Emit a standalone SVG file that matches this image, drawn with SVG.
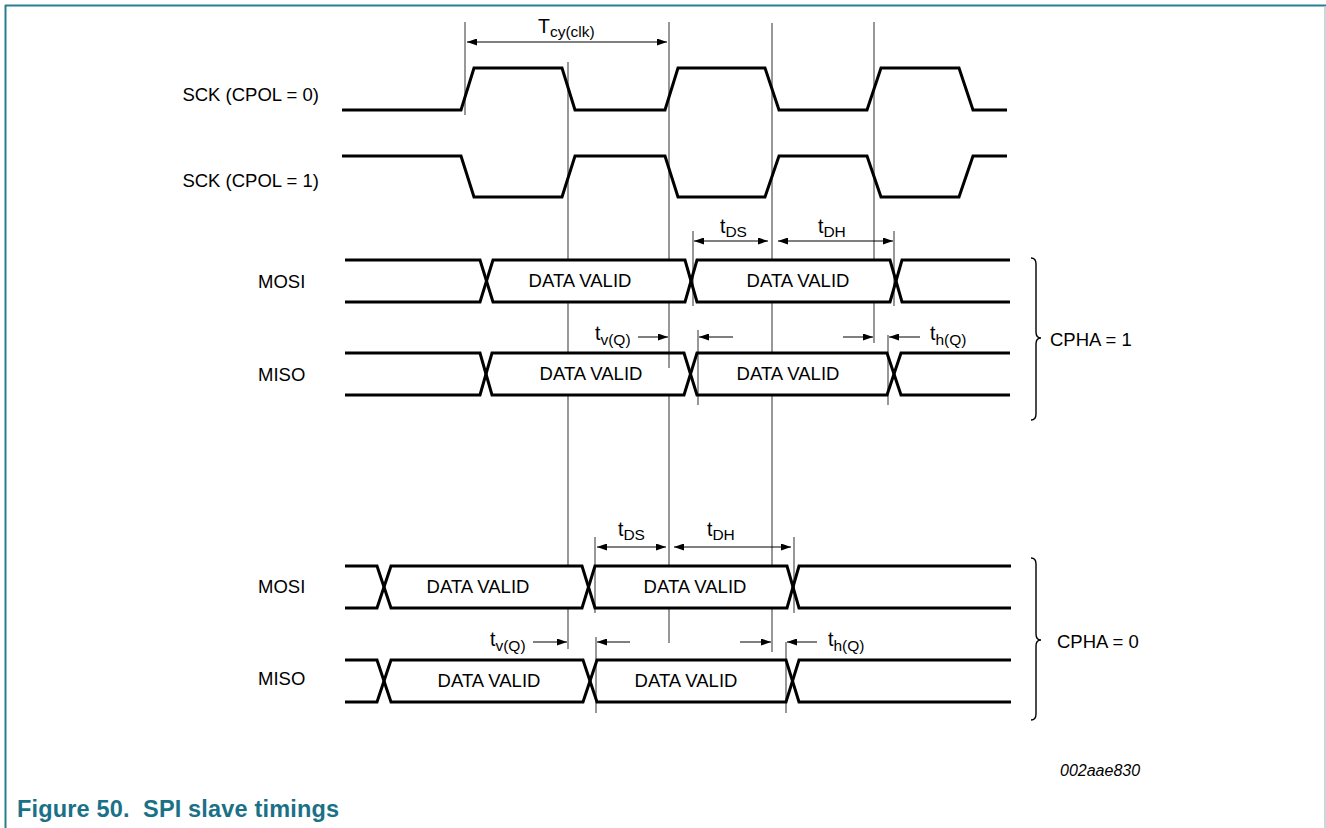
<svg xmlns="http://www.w3.org/2000/svg" width="1326" height="828" viewBox="0 0 1326 828">
<style>
text{font-family:"Liberation Sans",Arial,sans-serif;fill:#000}
.lbl{font-size:18.5px}
.dv{font-size:18.5px;text-anchor:middle}
.sym{font-size:19.5px}
.sub{font-size:15.5px}
.sig{fill:none;stroke:#000;stroke-width:3;stroke-linejoin:miter}
.guide{stroke:#444;stroke-width:1.1;fill:none}
.dim{stroke:#000;stroke-width:1;fill:none}
.brace{fill:none;stroke:#000;stroke-width:1.4}
.cap{font-size:23.5px;font-weight:bold;fill:#1a7187}
.code{font-size:16px;font-style:italic}
</style>
<defs>
<marker id="ah" viewBox="0 0 10 7" refX="10" refY="3.5" markerWidth="10" markerHeight="7" markerUnits="userSpaceOnUse" orient="auto-start-reverse">
<path d="M0,0 L10,3.5 L0,7 z" fill="#000"/>
</marker>
</defs>
<rect width="1326" height="828" fill="#fff"/>
<g id="frame">
<line x1="5" y1="5.5" x2="1326" y2="5.5" stroke="#2a7f8f" stroke-width="2"/>
<line x1="5.5" y1="5" x2="5.5" y2="828" stroke="#2a7f8f" stroke-width="2"/>
<line x1="1325" y1="6" x2="1325" y2="828" stroke="#b9cbd3" stroke-width="1.5"/>
</g>

<g id="connectors">
<line class="guide" x1="465" y1="22" x2="465" y2="115"/>
<path class="guide" d="M568,62V260M568,302V353M568,395V566M568,608V649"/>
<path class="guide" d="M669,22V260M669,302V368M669,395V566M669,608V643"/>
<path class="guide" d="M772,23V260M772,302V353M772,395V566M772,608V652"/>
<path class="guide" d="M874,22V260M874,302V343"/>
<path class="guide" d="M693,231V306M894,231V306M698,330V405M888,335V405"/>
<path class="guide" d="M595,537V613M794,537V613M596,637V713M786,642V713"/>
<line class="dim" x1="467" y1="42" x2="667" y2="42" marker-start="url(#ah)" marker-end="url(#ah)"/>
<line class="dim" x1="694" y1="241" x2="768" y2="241" marker-start="url(#ah)" marker-end="url(#ah)"/>
<line class="dim" x1="778" y1="241" x2="893" y2="241" marker-start="url(#ah)" marker-end="url(#ah)"/>
<line class="dim" x1="638" y1="337" x2="668" y2="337" marker-end="url(#ah)"/>
<line class="dim" x1="733" y1="337" x2="699" y2="337" marker-end="url(#ah)"/>
<line class="dim" x1="843" y1="337" x2="873" y2="337" marker-end="url(#ah)"/>
<line class="dim" x1="920" y1="337" x2="889" y2="337" marker-end="url(#ah)"/>
<line class="dim" x1="597" y1="547" x2="666" y2="547" marker-start="url(#ah)" marker-end="url(#ah)"/>
<line class="dim" x1="674" y1="547" x2="791" y2="547" marker-start="url(#ah)" marker-end="url(#ah)"/>
<line class="dim" x1="533" y1="642" x2="567" y2="642" marker-end="url(#ah)"/>
<line class="dim" x1="630" y1="642" x2="597" y2="642" marker-end="url(#ah)"/>
<line class="dim" x1="740" y1="642" x2="771" y2="642" marker-end="url(#ah)"/>
<line class="dim" x1="817" y1="642" x2="787" y2="642" marker-end="url(#ah)"/>
</g>

<g id="timing-labels">
<text class="sym" x="538" y="33">T<tspan class="sub" dy="4">cy(clk)</tspan></text>
<text class="sym" x="720" y="233">t<tspan class="sub" dy="4">DS</tspan></text>
<text class="sym" x="818" y="233">t<tspan class="sub" dy="4">DH</tspan></text>
<text class="sym" x="595" y="340">t<tspan class="sub" dy="5">v(Q)</tspan></text>
<text class="sym" x="930" y="340">t<tspan class="sub" dy="5">h(Q)</tspan></text>
<text class="sym" x="618" y="536">t<tspan class="sub" dy="4">DS</tspan></text>
<text class="sym" x="707" y="536">t<tspan class="sub" dy="4">DH</tspan></text>
<text class="sym" x="490" y="646">t<tspan class="sub" dy="5">v(Q)</tspan></text>
<text class="sym" x="828" y="646">t<tspan class="sub" dy="5">h(Q)</tspan></text>
</g>

<g id="sck-cpol0">
<text class="lbl" x="319" y="101" text-anchor="end">SCK (CPOL = 0)</text>
<path class="sig" d="M342,110H461L474,68H562L575,110H665L678,68H765L779,110H867L881,68H959L973,110H1007"/>
</g>
<g id="sck-cpol1">
<text class="lbl" x="319" y="187" text-anchor="end">SCK (CPOL = 1)</text>
<path class="sig" d="M342,156H461L474,197H562L575,156H665L678,197H765L779,156H867L881,197H959L973,156H1007"/>
</g>

<g id="mosi-cpha1">
<text class="lbl" x="258" y="288">MOSI</text>
<path class="sig" d="M345,260H480L493,302H685L697,260H890L902,302H1010"/>
<path class="sig" d="M345,302H480L493,260H685L697,302H890L902,260H1010"/>
<text class="dv" x="580" y="287">DATA VALID</text>
<text class="dv" x="798" y="287">DATA VALID</text>
</g>
<g id="miso-cpha1">
<text class="lbl" x="258" y="381">MISO</text>
<path class="sig" d="M345,353H480L492,395H684L697,353H887L901,395H1010"/>
<path class="sig" d="M345,395H480L492,353H684L697,395H887L901,353H1010"/>
<text class="dv" x="591" y="380">DATA VALID</text>
<text class="dv" x="788" y="380">DATA VALID</text>
</g>
<g id="brace-cpha1">
<path class="brace" d="M1031,258Q1036,258 1036,264V332Q1036,338 1041,338Q1036,338 1036,344V414Q1036,420 1031,420"/>
<text class="lbl" x="1050" y="346">CPHA = 1</text>
</g>

<g id="mosi-cpha0">
<text class="lbl" x="258" y="593">MOSI</text>
<path class="sig" d="M345,566H377L391,608H582L595,566H787L799,608H1011"/>
<path class="sig" d="M345,608H377L391,566H582L595,608H787L799,566H1011"/>
<text class="dv" x="478" y="593">DATA VALID</text>
<text class="dv" x="695" y="593">DATA VALID</text>
</g>
<g id="miso-cpha0">
<text class="lbl" x="258" y="685">MISO</text>
<path class="sig" d="M345,660H377L391,702H583L597,660H786L799,702H1011"/>
<path class="sig" d="M345,702H377L391,660H583L597,702H786L799,660H1011"/>
<text class="dv" x="489" y="687">DATA VALID</text>
<text class="dv" x="686" y="687">DATA VALID</text>
</g>
<g id="brace-cpha0">
<path class="brace" d="M1031,558Q1036,558 1036,564V634Q1036,640 1041,640Q1036,640 1036,646V714Q1036,720 1031,720"/>
<text class="lbl" x="1057" y="648">CPHA = 0</text>
</g>

<g id="caption">
<text class="code" x="1060" y="776">002aae830</text>
<text class="cap" x="17" y="817" xml:space="preserve" textLength="322" lengthAdjust="spacing">Figure 50.  SPI slave timings</text>
</g>
</svg>
